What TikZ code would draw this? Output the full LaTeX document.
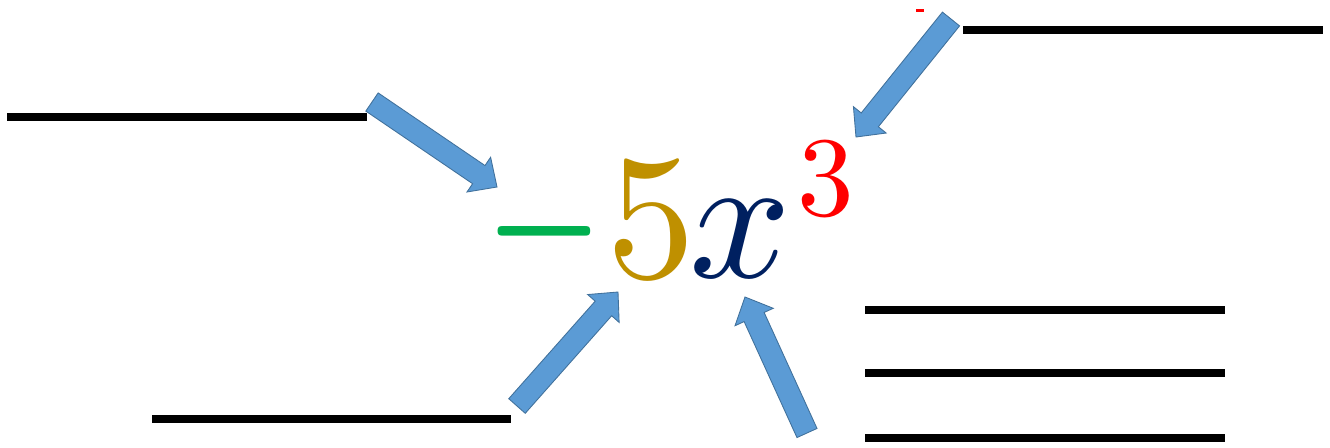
\documentclass[tikz,border=0pt]{standalone}
\usepackage{xcolor}
\usepackage{tikz}
\usetikzlibrary{calc}
\definecolor{TermGreen}{HTML}{00B050}
\definecolor{TermGold}{HTML}{BF9000}
\definecolor{TermNavy}{HTML}{002060}
\definecolor{TermRed}{HTML}{FF0000}
\definecolor{ArrowFill}{HTML}{5B9BD5}
\definecolor{ArrowEdge}{HTML}{41719C}

\begin{document}
\begin{tikzpicture}[
    x=0.02cm, y=-0.02cm,
    blank/.style={line width=0.16cm, draw=black},
    term/.style={inner sep=0pt, anchor=base, scale=10.15},
    fatarrow/.style={draw=ArrowEdge, fill=ArrowFill, line width=0.5pt, line join=miter,
      to path={let \p1=(\tikztostart), \p2=(\tikztotarget),
        \n1={atan2(\y2-\y1,\x2-\x1)} in
        ($(\p1)+(\n1+90:0.22cm)$)
        -- ($(\p2)+(\n1+180:0.44cm)+(\n1+90:0.22cm)$)
        -- ($(\p2)+(\n1+180:0.44cm)+(\n1+90:0.42cm)$)
        -- (\p2)
        -- ($(\p2)+(\n1+180:0.44cm)+(\n1-90:0.42cm)$)
        -- ($(\p2)+(\n1+180:0.44cm)+(\n1-90:0.22cm)$)
        -- ($(\p1)+(\n1-90:0.22cm)$) -- cycle}}
  ]
  \useasboundingbox (0,0) rectangle (1330,447);

  % the term
  \node[term, xscale=0.85, yscale=1.35] (sign) at (544,291) {$\color{TermGreen}-$};
  \node[term] (coef) at (651,277) {$\color{TermGold}5$};
  \node[term] (var) at (740,277) {$\color{TermNavy}x$};
  \node[term, scale=0.635] (expo) at (826,215) {$\color{TermRed}3$};

  % blanks to fill in
  \draw[blank] (7,117) -- (367,117);
  \draw[blank] (963,29.5) -- (1323,29.5);
  \draw[blank] (152,418.5) -- (511,418.5);
  \foreach \yy in {309.5,373,438}
    \draw[blank] (865,\yy) -- (1225,\yy);
  \fill[TermRed] (916,9) rectangle (924,12);

  % pointers
  \coordinate (tailA) at (372,102);
  \coordinate (tipA) at (497,187);
  \coordinate (tailB) at (951,19);
  \coordinate (tipB) at (856,137);
  \coordinate (tailC) at (517,406);
  \coordinate (tipC) at (618,292);
  \coordinate (tailD) at (807,433);
  \coordinate (tipD) at (745,297);

  \draw[fatarrow] (tailA) to (tipA);
  \draw[fatarrow] (tailB) to (tipB);
  \draw[fatarrow] (tailC) to (tipC);
  \draw[fatarrow] (tailD) to (tipD);
\end{tikzpicture}
\end{document}
